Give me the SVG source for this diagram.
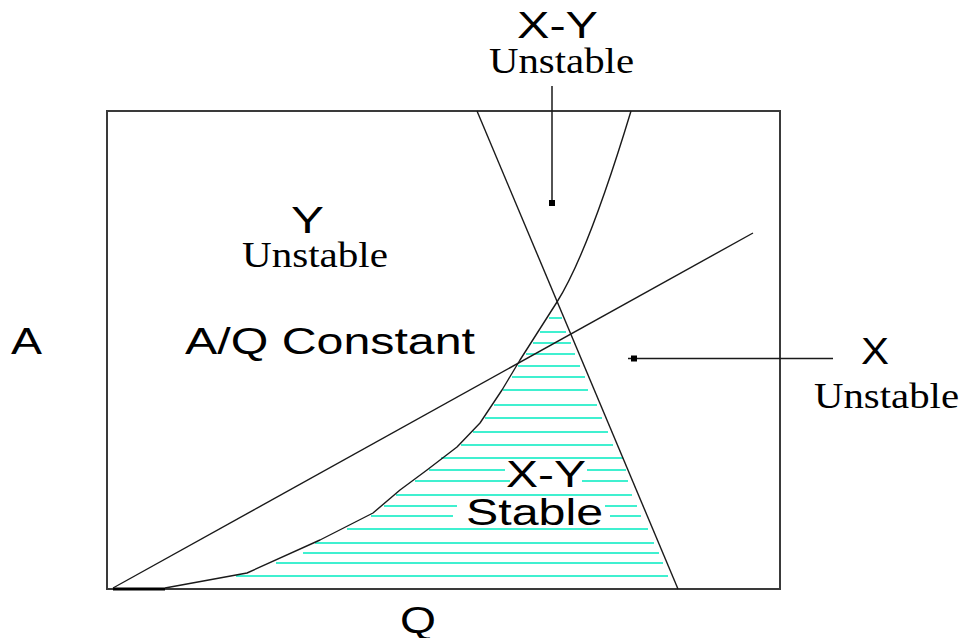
<svg xmlns="http://www.w3.org/2000/svg" width="962" height="638" viewBox="0 0 962 638">
<style>
.sans{font-family:"Liberation Sans",Arial,sans-serif;font-size:36px;fill:#000}
.serif{font-family:"Liberation Serif","Times New Roman",serif;font-size:35px;fill:#000}
.ln{fill:none;stroke:#1a1a1a;stroke-width:1.4;stroke-linejoin:round}
.hatch line{stroke:#40f0d0;stroke-width:2}
</style>
<rect width="962" height="638" fill="#fff"/>
<g id="hatch" class="hatch">
<line x1="549" y1="318" x2="562" y2="318"/>
<line x1="540" y1="332" x2="566" y2="332"/>
<line x1="533" y1="343" x2="571" y2="343"/>
<line x1="526" y1="354" x2="575" y2="354"/>
<line x1="518" y1="366" x2="580" y2="366"/>
<line x1="512" y1="377" x2="585" y2="377"/>
<line x1="503" y1="390" x2="588" y2="390"/>
<line x1="494" y1="405" x2="597" y2="405"/>
<line x1="485" y1="418" x2="602" y2="418"/>
<line x1="473" y1="432" x2="608" y2="432"/>
<line x1="461" y1="445" x2="613" y2="445"/>
<line x1="441" y1="458" x2="623" y2="458"/>
<line x1="429" y1="470" x2="505" y2="470"/>
<line x1="587" y1="470" x2="626" y2="470"/>
<line x1="415" y1="481" x2="510" y2="481"/>
<line x1="582" y1="481" x2="628" y2="481"/>
<line x1="396" y1="495" x2="632" y2="495"/>
<line x1="384" y1="506" x2="457" y2="506"/>
<line x1="605" y1="506" x2="637" y2="506"/>
<line x1="371" y1="516" x2="453" y2="516"/>
<line x1="610" y1="516" x2="641" y2="516"/>
<line x1="347" y1="529" x2="648" y2="529"/>
<line x1="315" y1="543" x2="654" y2="543"/>
<line x1="303" y1="553" x2="659" y2="553"/>
<line x1="276" y1="563" x2="663" y2="563"/>
<line x1="236" y1="576" x2="668" y2="576"/>
</g>
<g id="frame">
<rect x="107" y="111" width="673" height="478" fill="none" stroke="#3a3a3a" stroke-width="2"/>
<line x1="113" y1="589" x2="165" y2="589" stroke="#000" stroke-width="3"/>
</g>
<g id="curves">
<path id="x-boundary" class="ln" d="M477,111 L678,589"/>
<path id="y-boundary" class="ln" d="M165,588 L247,573 L320,540 L373,513 L400,490 L427,470 L457,447 L480,423 L502,390 L508,380 L520,360 L557,302 Q588,253 631,111"/>
<path id="aq-constant" class="ln" d="M113,588 L753,233"/>
</g>
<g id="connectors">
<line x1="552" y1="86" x2="552" y2="203" stroke="#1a1a1a" stroke-width="1.5"/>
<rect x="549" y="200" width="6" height="6" fill="#000"/>
<line x1="628" y1="358.5" x2="833" y2="358.5" stroke="#1a1a1a" stroke-width="1.5"/>
<rect x="631" y="355.5" width="6" height="6" fill="#000"/>
</g>
<g id="label-xy-unstable">
<text class="sans" x="517" y="38" textLength="81" lengthAdjust="spacingAndGlyphs">X-Y</text>
<text class="serif" x="489" y="73" textLength="145" lengthAdjust="spacingAndGlyphs">Unstable</text>
</g>
<g id="label-y-unstable">
<text class="sans" x="291" y="233" textLength="33" lengthAdjust="spacingAndGlyphs">Y</text>
<text class="serif" x="242" y="267" textLength="146" lengthAdjust="spacingAndGlyphs">Unstable</text>
</g>
<g id="label-a">
<text class="sans" x="11" y="354" textLength="31" lengthAdjust="spacingAndGlyphs">A</text>
</g>
<g id="label-aq-constant">
<text class="sans" x="185" y="354" textLength="290" lengthAdjust="spacingAndGlyphs">A/Q Constant</text>
</g>
<g id="label-x-unstable">
<text class="sans" x="861" y="364" textLength="28" lengthAdjust="spacingAndGlyphs">X</text>
<text class="serif" x="814" y="408" textLength="145" lengthAdjust="spacingAndGlyphs">Unstable</text>
</g>
<g id="label-xy-stable">
<text class="sans" x="506" y="487" textLength="80" lengthAdjust="spacingAndGlyphs">X-Y</text>
<text class="sans" x="466" y="525" textLength="137" lengthAdjust="spacingAndGlyphs">Stable</text>
</g>
<g id="label-q">
<text class="sans" x="400" y="633" textLength="36" lengthAdjust="spacingAndGlyphs">Q</text>
</g>
</svg>
